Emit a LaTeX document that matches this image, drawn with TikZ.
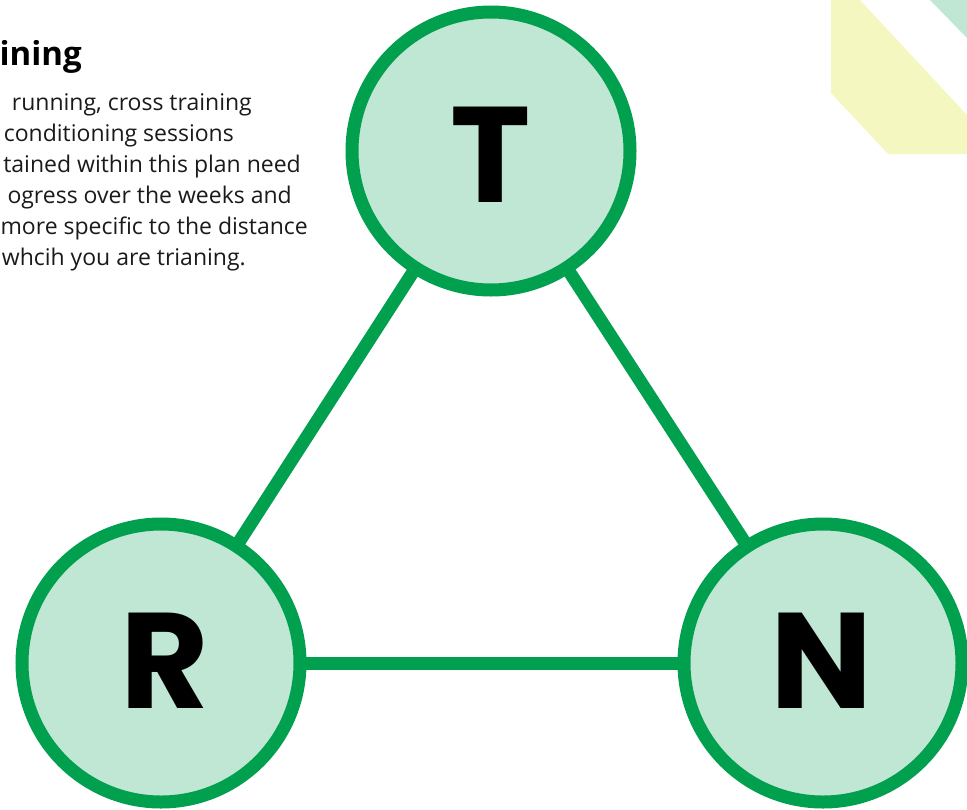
\documentclass[tikz,border=0pt]{standalone}
\usepackage{fontspec}
\setmainfont{Open Sans}
\newfontfamily\letterfont{Poppins}
\usetikzlibrary{backgrounds}
\definecolor{ringgreen}{HTML}{00A04E}
\definecolor{mint}{HTML}{BFE7D4}
\definecolor{paleyellow}{HTML}{F5F7C0}
\definecolor{bodytext}{HTML}{1A1A1A}
\tikzset{
  ring/.style={circle, draw=ringgreen, fill=mint, line width=13pt, minimum size=278pt, inner sep=0pt},
  letter/.style={font=\letterfont\bfseries\fontsize{136}{136}\selectfont, text=black, inner sep=0pt},
  link/.style={draw=ringgreen, line width=13pt},
  body/.style={font=\fontsize{23}{26}\selectfont, text=bodytext, anchor=base east, inner sep=0pt},
}
\begin{document}
\begin{tikzpicture}[x=1pt,y=-1pt]
\useasboundingbox (0,0) rectangle (967,809);
% decorations top-right
\fill[paleyellow] (831,0) -- (860,0) -- (967,115) -- (967,154) -- (888,154) -- (831,93) -- cycle;
\fill[mint] (930,0) -- (967,0) -- (967,38) -- cycle;
% text block
\node[font=\bfseries\fontsize{33}{38}\selectfont, anchor=base east, inner sep=0pt] (head) at (82,65) {ining};
\node[body] (l1) at (252,110) {running, cross training};
\node[body] (l2) at (234,141) {conditioning sessions};
\node[body] (l3) at (301,172) {tained within this plan need};
\node[body] (l4) at (292,203) {ogress over the weeks and};
\node[body] (l5) at (308,234) {more specific to the distance};
\node[body] (l6) at (246,265) {whcih you are trianing.};
% circles
\node[ring] (T) at (491,151) {};
\node[ring] (R) at (161,663) {};
\node[ring] (N) at (823,663) {};
\node[letter] (tT) at (491,155) {T};
\node[letter] (tR) at (165,661) {R};
\node[letter] (tN) at (822,661) {N};
\begin{scope}[on background layer]
\draw[link] (T.center) -- (R.center);
\draw[link] (T.center) -- (N.center);
\draw[link] (R.center) -- (N.center);
\end{scope}
\end{tikzpicture}
\end{document}
